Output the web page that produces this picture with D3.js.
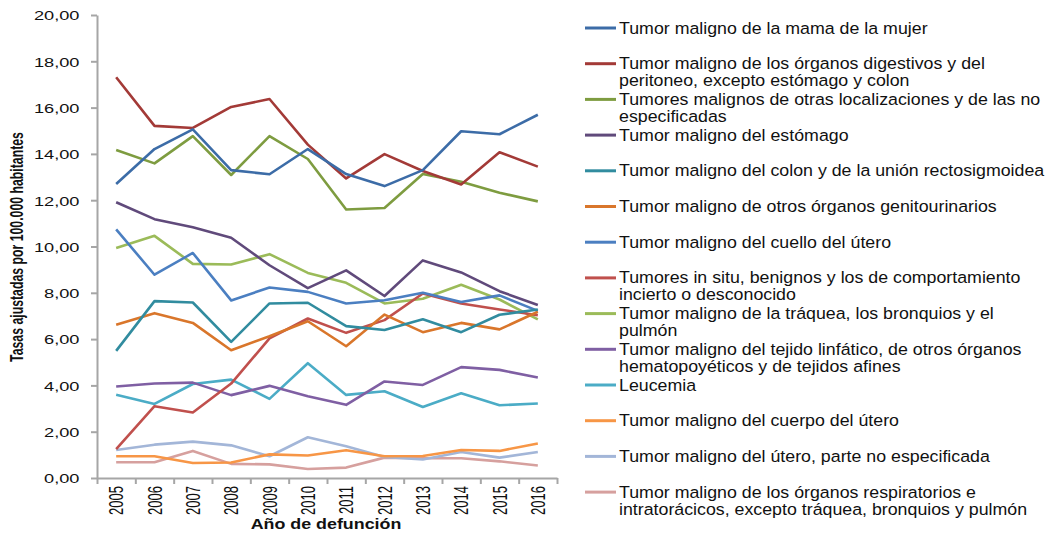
<!DOCTYPE html>
<meta charset="utf-8">
<style>
body { margin: 0; background: #fff; }
text { font-family: "Liberation Sans", Arial, sans-serif; fill: #111; }
</style>
<svg width="1053" height="533"></svg>
<script src="https://cdnjs.cloudflare.com/ajax/libs/d3/7.8.5/d3.min.js"></script>
<script>

var years = ["2005","2006","2007","2008","2009","2010","2011","2012","2013","2014","2015","2016"];

// tasas por serie, 2005..2016
var mama        = [12.70,14.21,15.06,13.30,13.12,14.21,13.13,12.61,13.30,14.98,14.85,15.69];
var digestivos  = [17.31,15.21,15.12,16.03,16.37,14.40,12.94,13.99,13.26,12.68,14.07,13.45];
var otras       = [14.17,13.59,14.77,13.09,14.77,13.78,11.60,11.66,13.13,12.80,12.32,11.95];
var estomago    = [11.91,11.18,10.83,10.38,9.19,8.20,8.97,7.86,9.40,8.88,8.07,7.47];
var colon       = [5.49,7.64,7.58,5.88,7.54,7.57,6.56,6.39,6.86,6.30,7.05,7.28];
var genito      = [6.62,7.12,6.70,5.52,6.12,6.77,5.69,7.06,6.30,6.70,6.42,7.18];
var cuello      = [10.74,8.78,9.72,7.67,8.23,8.04,7.54,7.68,8.00,7.60,7.89,7.22];
var insitu      = [1.25,3.10,2.83,4.08,6.03,6.89,6.27,6.82,7.97,7.54,7.28,7.03];
var traquea     = [9.94,10.46,9.25,9.22,9.67,8.86,8.43,7.54,7.74,8.35,7.71,6.85];
var linfatico   = [3.95,4.08,4.12,3.58,3.98,3.53,3.16,4.17,4.02,4.79,4.67,4.34];
var leucemia    = [3.60,3.20,4.06,4.25,3.42,4.96,3.59,3.75,3.07,3.66,3.14,3.22];
var cuerpo      = [0.94,0.94,0.65,0.67,1.02,0.97,1.20,0.94,0.95,1.21,1.17,1.49];
var uteroNoEsp  = [1.21,1.44,1.57,1.41,0.94,1.76,1.37,0.91,0.80,1.12,0.88,1.12];
var respirat    = [0.68,0.68,1.17,0.61,0.59,0.39,0.45,0.88,0.85,0.85,0.72,0.54];

var names = [
  ["Tumor maligno de la mama de la mujer"],
  ["Tumor maligno de los órganos digestivos y del", "peritoneo, excepto estómago y colon"],
  ["Tumores malignos de otras localizaciones y de las no", "especificadas"],
  ["Tumor maligno del estómago"],
  ["Tumor maligno del colon y de la unión rectosigmoidea"],
  ["Tumor maligno de otros órganos genitourinarios"],
  ["Tumor maligno del cuello del útero"],
  ["Tumores in situ, benignos y los de comportamiento", "incierto o desconocido"],
  ["Tumor maligno de la tráquea, los bronquios y el", "pulmón"],
  ["Tumor maligno del tejido linfático, de otros órganos", "hematopoyéticos y de tejidos afines"],
  ["Leucemia"],
  ["Tumor maligno del cuerpo del útero"],
  ["Tumor maligno del útero, parte no especificada"],
  ["Tumor maligno de los órganos respiratorios e", "intratorácicos, excepto tráquea, bronquios y pulmón"]
];
var values = [mama, digestivos, otras, estomago, colon, genito, cuello, insitu,
              traquea, linfatico, leucemia, cuerpo, uteroNoEsp, respirat];
var colors = ["#3C6CA7","#A33A37","#7E9C40","#604A7B","#318C9F","#D9762B","#4B7FC1",
              "#C0504D","#9BBB59","#7F5FA3","#4BACC6","#F79646","#A3B6D8","#D6A09E"];

var series = values.map(function(v, i) {
  return { name: names[i], color: colors[i], points: v.map(function(d, j) { return { year: years[j], value: d }; }) };
});

var svg = d3.select("svg");
var plotLeft = 97, plotRight = 557, plotTop = 15, plotBottom = 478;

var x = d3.scaleBand().domain(years).range([plotLeft, plotRight]);
var xEdge = d3.scaleLinear().domain([0, years.length]).range([plotLeft, plotRight]);
var y = d3.scaleLinear().domain([0, 20]).range([plotBottom, plotTop]);

var fmt = function(d) { return d3.format(".2f")(d).replace(".", ","); };

// eje y
var yAxis = svg.append("g")
  .attr("transform", "translate(" + plotLeft + ",0)")
  .call(d3.axisLeft(y).tickValues(d3.range(0, 21, 2)).tickFormat(fmt).tickSize(6).tickSizeOuter(0));
yAxis.selectAll("text")
  .attr("x", -13).attr("dy", "0.36em")
  .attr("transform", "scale(1.35,1)")
  .style("font-size", "13.5px");

// eje x: marcas en los limites de cada categoria
var xAxis = svg.append("g")
  .attr("transform", "translate(0," + plotBottom + ")")
  .call(d3.axisBottom(xEdge).ticks(years.length).tickFormat("").tickSize(6).tickSizeOuter(0));

var xLabels = svg.append("g")
  .attr("transform", "translate(0," + plotBottom + ")")
  .call(d3.axisBottom(x).tickSize(0));
xLabels.select(".domain").remove();
xLabels.selectAll("text")
  .attr("text-anchor", "end")
  .attr("x", -8).attr("y", 0).attr("dy", "0.36em")
  .attr("transform", "rotate(-90) scale(1,1.55)")
  .style("font-size", "13px");

svg.selectAll(".domain, .tick line").attr("stroke", "#A6A6A6").attr("stroke-width", 2);

// lineas
var line = d3.line()
  .x(function(d) { return x(d.year) + x.bandwidth() / 2; })
  .y(function(d) { return y(d.value); });

svg.append("g").selectAll("path")
  .data(series.slice().reverse())
  .enter().append("path")
    .attr("d", function(d) { return line(d.points); })
    .attr("fill", "none")
    .attr("stroke", function(d) { return d.color; })
    .attr("stroke-width", 2.6)
    .attr("stroke-linejoin", "round");

// titulos
svg.append("text")
  .attr("transform", "translate(23,247) rotate(-90) scale(1,1.5)")
  .attr("text-anchor", "middle")
  .style("font-size", "12.3px").style("font-weight", "bold")
  .text("Tasas ajustadas por 100.000 habitantes");

svg.append("text")
  .attr("transform", "translate(326,529) scale(1.16,1)")
  .attr("text-anchor", "middle")
  .style("font-size", "15.4px").style("font-weight", "bold")
  .text("Año de defunción");

// leyenda
var legend = svg.append("g").selectAll("g")
  .data(series)
  .enter().append("g")
    .attr("transform", function(d, i) { return "translate(585," + (28 + i * 35.7) + ")"; });

legend.append("line")
  .attr("x1", 0).attr("x2", 31)
  .attr("stroke", function(d) { return d.color; })
  .attr("stroke-width", 3);

legend.append("text")
  .attr("transform", "translate(34,5.5) scale(1.14,1)")
  .style("font-size", "15.6px")
  .selectAll("tspan")
  .data(function(d) { return d.name; })
  .enter().append("tspan")
    .attr("x", 0)
    .attr("y", function(d, i) { return i * 17; })
    .text(function(d) { return d; });

</script>
